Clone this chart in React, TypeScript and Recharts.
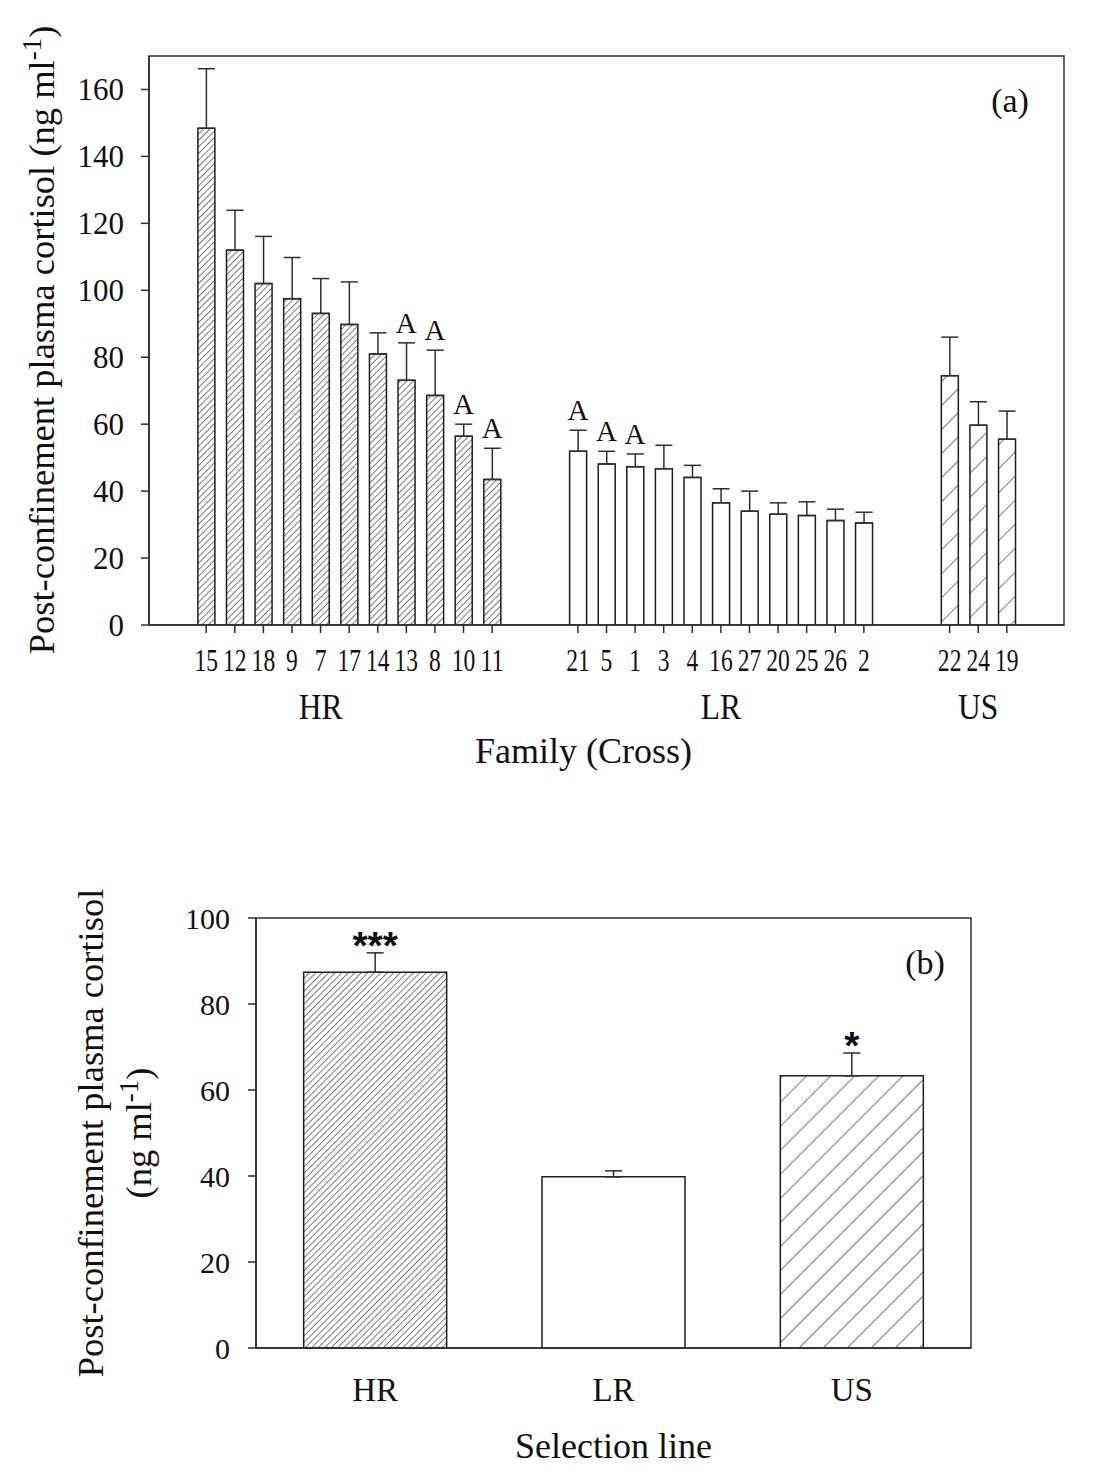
import {
  ComposedChart,
  Bar,
  Cell,
  ErrorBar,
  XAxis,
  YAxis,
  Scatter,
  ReferenceArea,
} from 'recharts';

const SERIF = '"Liberation Serif", "Times New Roman", serif';
const SANS = '"Liberation Sans", Arial, sans-serif';
const INK = '#111111';
const LINE = '#2e2e2e';

// (a) post-confinement cortisol by family, grouped by selection line
const hrFamilies = ['15', '12', '18', '9', '7', '17', '14', '13', '8', '10', '11'];
const hrMeans = [148.4, 112.0, 102.0, 97.5, 93.1, 89.8, 81.0, 73.1, 68.6, 56.4, 43.5];
const hrErrors = [17.8, 11.9, 14.1, 12.3, 10.4, 12.7, 6.3, 11.2, 13.5, 3.6, 9.3];
const hrLetters = ['', '', '', '', '', '', '', 'A', 'A', 'A', 'A'];

const lrFamilies = ['21', '5', '1', '3', '4', '16', '27', '20', '25', '26', '2'];
const lrMeans = [51.9, 48.1, 47.3, 46.7, 44.1, 36.5, 34.0, 33.1, 32.7, 31.2, 30.5];
const lrErrors = [6.3, 3.8, 3.8, 7.0, 3.6, 4.2, 6.0, 3.4, 4.1, 3.4, 3.2];
const lrLetters = ['A', 'A', 'A', '', '', '', '', '', '', '', ''];

const usFamilies = ['22', '24', '19'];
const usMeans = [74.5, 59.7, 55.5];
const usErrors = [11.5, 7.0, 8.4];
const usLetters = ['', '', ''];

const groupNames = ['HR', 'LR', 'US'];
const familyTicksY = [0, 20, 40, 60, 80, 100, 120, 140, 160];

// (b) post-confinement cortisol by selection line
const lineNames = ['HR', 'LR', 'US'];
const lineMeans = [87.4, 39.8, 63.3];
const lineErrors = [4.5, 1.4, 5.3];
const lineStars = ['***', '', '*'];
const lineTicksY = [0, 20, 40, 60, 80, 100];

// slot layout on the family axis (gaps between the groups)
const hrStart = 0;
const lrStart = 13;
const usStart = 26;

type FamilyRow = {
  pos: number;
  family: string;
  group: string;
  mean: number;
  err: [number, number];
  top: number;
  letter: string;
};

function buildRows(
  group: string,
  start: number,
  families: string[],
  means: number[],
  errors: number[],
  letters: string[],
): FamilyRow[] {
  return families.map((family, i) => ({
    pos: start + i,
    family,
    group,
    mean: means[i],
    err: [0, errors[i]],
    top: means[i] + errors[i],
    letter: letters[i],
  }));
}

const familyRows: FamilyRow[] = [
  ...buildRows('HR', hrStart, hrFamilies, hrMeans, hrErrors, hrLetters),
  ...buildRows('LR', lrStart, lrFamilies, lrMeans, lrErrors, lrLetters),
  ...buildRows('US', usStart, usFamilies, usMeans, usErrors, usLetters),
];
const familyTicks = familyRows.map((r) => r.pos);
const familyLabelAt = new Map(familyRows.map((r) => [r.pos, r.family]));
const letterRows = familyRows.filter((r) => r.letter);

const groupTicks = [hrStart + 4, lrStart + 5, usStart + 1];
const groupLabelAt = new Map(groupTicks.map((p, i) => [p, groupNames[i]]));

const lineRows = lineNames.map((line, i) => ({
  line,
  mean: lineMeans[i],
  err: [0, lineErrors[i]] as [number, number],
  top: lineMeans[i] + lineErrors[i],
  star: lineStars[i],
}));

function fillFor(group: string, suffix: string) {
  if (group === 'HR') return `url(#dense${suffix})`;
  if (group === 'US') return `url(#sparse${suffix})`;
  return '#ffffff';
}

function HatchDefs({ suffix }: { suffix: string }) {
  return (
    <defs>
      <pattern
        id={`dense${suffix}`}
        patternUnits="userSpaceOnUse"
        width={4.6}
        height={4.6}
        patternTransform="rotate(45)"
      >
        <rect width={4.6} height={4.6} fill="#ffffff" />
        <line x1={0} y1={0} x2={0} y2={4.6} stroke="#222222" strokeWidth={1.2} />
      </pattern>
      <pattern
        id={`sparse${suffix}`}
        patternUnits="userSpaceOnUse"
        width={17}
        height={17}
        patternTransform="rotate(45)"
      >
        <rect width={17} height={17} fill="#ffffff" />
        <line x1={0} y1={0} x2={0} y2={17} stroke="#222222" strokeWidth={1.2} />
      </pattern>
    </defs>
  );
}

const LetterMark = (props: any) => {
  const { cx, cy, payload } = props;
  return (
    <text x={cx} y={cy - 10} textAnchor="middle" fontFamily={SERIF} fontSize={29} fill={INK}>
      {payload.letter}
    </text>
  );
};

const StarMark = (props: any) => {
  const { cx, cy, payload } = props;
  if (!payload.star) return <g />;
  return (
    <text
      x={cx}
      y={cy + 6}
      textAnchor="middle"
      fontFamily={SANS}
      fontWeight="bold"
      fontSize={39}
      fill={INK}
    >
      {payload.star}
    </text>
  );
};

// the original figure's lettering is tall and narrow
const CondensedTick = (props: any) => {
  const { x, y, payload, labels, size, squeeze } = props;
  return (
    <text
      transform={`translate(${x},${y}) scale(${squeeze},1)`}
      textAnchor="middle"
      dy="0.71em"
      fontFamily={SERIF}
      fontSize={size}
      fill={INK}
    >
      {labels.get(payload.value) ?? ''}
    </text>
  );
};

function FamilyChart() {
  return (
    <ComposedChart
      width={1102}
      height={780}
      data={familyRows}
      margin={{ top: 56, right: 38, bottom: 0, left: 0 }}
    >
      <HatchDefs suffix="A" />
      <ReferenceArea y1={0} y2={170} fill="none" stroke={LINE} strokeWidth={1.5} />
      <XAxis
        dataKey="pos"
        type="number"
        domain={[-2, 30]}
        allowDataOverflow
        ticks={familyTicks}
        interval={0}
        height={60}
        tickSize={8}
        tickMargin={16}
        stroke={LINE}
        strokeWidth={1.5}
        tick={<CondensedTick labels={familyLabelAt} size={31} squeeze={0.76} />}
      />
      <XAxis
        xAxisId="grp"
        dataKey="pos"
        type="number"
        domain={[-2, 30]}
        allowDataOverflow
        ticks={groupTicks}
        interval={0}
        height={95}
        axisLine={false}
        tickLine={false}
        tickSize={0}
        tickMargin={9}
        tick={<CondensedTick labels={groupLabelAt} size={35} squeeze={0.9} />}
        label={{
          value: 'Family (Cross)',
          position: 'insideBottom',
          offset: 17,
          dx: -23,
          fontSize: 36,
          fontFamily: SERIF,
          fill: INK,
        }}
      />
      <YAxis
        type="number"
        domain={[0, 170]}
        allowDataOverflow
        ticks={familyTicksY}
        interval={0}
        width={149}
        tickSize={8}
        tickMargin={17}
        stroke={LINE}
        strokeWidth={1.5}
        tick={{ fontSize: 31, fontFamily: SERIF, fill: INK }}
      />
      <Bar dataKey="mean" barSize={17} stroke="#1e1e1e" strokeWidth={1.5} isAnimationActive={false}>
        {familyRows.map((r) => (
          <Cell key={r.pos} fill={fillFor(r.group, 'A')} />
        ))}
        <ErrorBar dataKey="err" width={8.5} stroke={LINE} strokeWidth={1.5} direction="y" />
      </Bar>
      <Scatter data={letterRows} dataKey="top" shape={LetterMark} isAnimationActive={false} />
      <text
        transform="translate(54, 340) rotate(-90)"
        textAnchor="middle"
        fontFamily={SERIF}
        fontSize={36.5}
        fill={INK}
      >
        Post-confinement plasma cortisol (ng ml
        <tspan dy={-13} fontSize={27}>
          -1
        </tspan>
        <tspan dy={13}>)</tspan>
      </text>
      <text x={1010} y={112} textAnchor="middle" fontFamily={SERIF} fontSize={34} fill={INK}>
        (a)
      </text>
    </ComposedChart>
  );
}

function SelectionChart() {
  return (
    <ComposedChart
      width={1102}
      height={668}
      data={lineRows}
      margin={{ top: 118, right: 131, bottom: 0, left: 0 }}
      barCategoryGap="20%"
    >
      <HatchDefs suffix="B" />
      <ReferenceArea y1={0} y2={100} fill="none" stroke={LINE} strokeWidth={1.5} />
      <XAxis
        dataKey="line"
        allowDuplicatedCategory={false}
        height={120}
        tickLine={false}
        tickSize={0}
        tickMargin={30}
        stroke={LINE}
        strokeWidth={1.5}
        tick={{ fontSize: 33, fontFamily: SERIF, fill: INK }}
        label={{
          value: 'Selection line',
          position: 'insideBottom',
          offset: 10,
          fontSize: 36,
          fontFamily: SERIF,
          fill: INK,
        }}
      />
      <YAxis
        type="number"
        domain={[0, 100]}
        ticks={lineTicksY}
        interval={0}
        width={256}
        tickSize={8}
        tickMargin={18}
        stroke={LINE}
        strokeWidth={1.5}
        tick={{ fontSize: 30, fontFamily: SERIF, fill: INK }}
      />
      <Bar dataKey="mean" stroke="#1e1e1e" strokeWidth={1.5} isAnimationActive={false}>
        {lineRows.map((r) => (
          <Cell key={r.line} fill={fillFor(r.line, 'B')} />
        ))}
        <ErrorBar dataKey="err" width={8.5} stroke={LINE} strokeWidth={1.5} direction="y" />
      </Bar>
      <Scatter dataKey="top" shape={StarMark} isAnimationActive={false} />
      <text
        transform="translate(103, 333) rotate(-90)"
        textAnchor="middle"
        fontFamily={SERIF}
        fontSize={36.5}
        fill={INK}
      >
        Post-confinement plasma cortisol
      </text>
      <text
        transform="translate(151, 333) rotate(-90)"
        textAnchor="middle"
        fontFamily={SERIF}
        fontSize={36.5}
        fill={INK}
      >
        (ng ml
        <tspan dy={-13} fontSize={27}>
          -1
        </tspan>
        <tspan dy={13}>)</tspan>
      </text>
      <text x={925} y={174} textAnchor="middle" fontFamily={SERIF} fontSize={34} fill={INK}>
        (b)
      </text>
    </ComposedChart>
  );
}

export default function App() {
  return (
    <div style={{ position: 'absolute', left: 0, top: 0, width: 1102, height: 1468, background: '#ffffff' }}>
      <div style={{ position: 'absolute', left: 0, top: 0 }}>
        <FamilyChart />
      </div>
      <div style={{ position: 'absolute', left: 0, top: 800 }}>
        <SelectionChart />
      </div>
    </div>
  );
}
